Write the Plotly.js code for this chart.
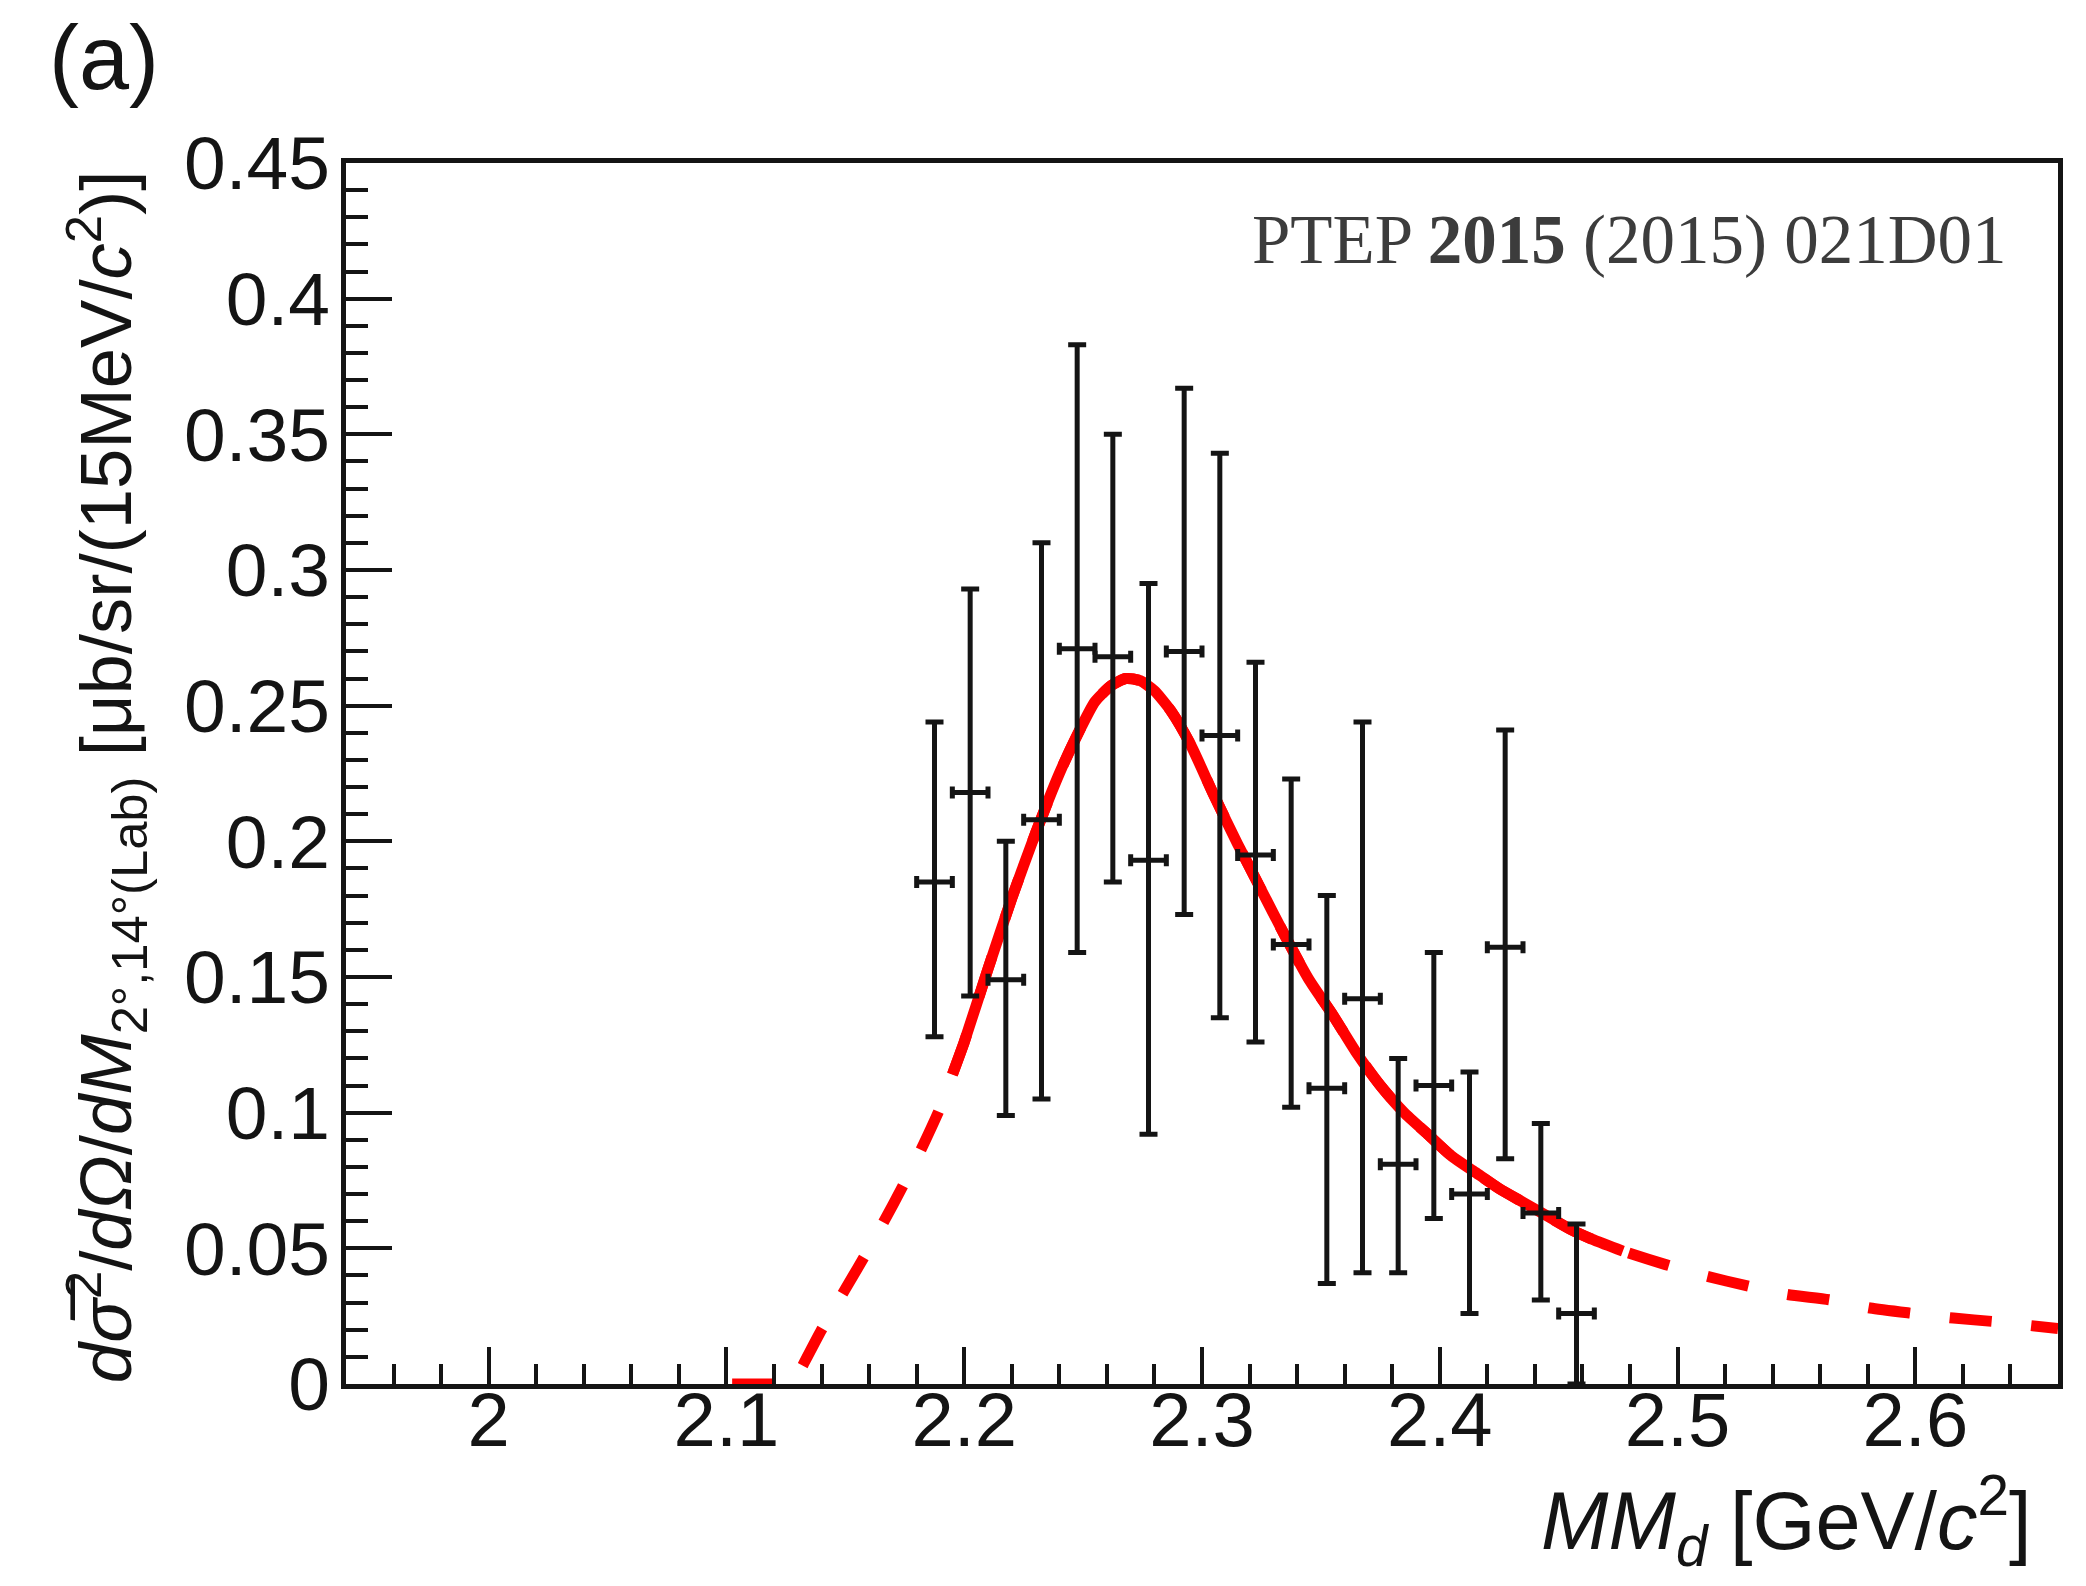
<!DOCTYPE html>
<html>
<head>
<meta charset="utf-8">
<script src="https://cdn.plot.ly/plotly-3.0.1.min.js"></script>
<style>
  html, body { margin: 0; padding: 0; background: #ffffff; }
  #chart { width: 2086px; height: 1586px; }
</style>
</head>
<body>
<div id="chart"></div>
<script>
// Measured spectrum: bin centres in missing mass (GeV/c^2), 15 MeV bins
const massCenters = [2.1875, 2.2025, 2.2175, 2.2325, 2.2475, 2.2625, 2.2775, 2.2925, 2.3075, 2.3225,
                     2.3375, 2.3525, 2.3675, 2.3825, 2.3975, 2.4125, 2.4275, 2.4425, 2.4575];
const binHalfWidth = 0.0075;
// Cross section per bin and the lower / upper ends of its error bar
const crossSection = [0.185, 0.218, 0.149, 0.208, 0.271, 0.268, 0.193, 0.270, 0.239, 0.195,
                      0.162, 0.109, 0.142, 0.081, 0.110, 0.070, 0.161, 0.063, 0.026];
const errorLow  = [0.128, 0.143, 0.099, 0.105, 0.159, 0.185, 0.092, 0.173, 0.135, 0.126,
                   0.102, 0.037, 0.041, 0.041, 0.061, 0.026, 0.083, 0.031, 0.000];
const errorHigh = [0.244, 0.293, 0.200, 0.310, 0.383, 0.350, 0.295, 0.367, 0.343, 0.266,
                   0.223, 0.180, 0.244, 0.120, 0.159, 0.115, 0.241, 0.096, 0.059];

// Fitted line shape, sampled in missing mass
const fitMass = [2.1024, 2.110, 2.120, 2.128, 2.131, 2.140, 2.150, 2.160, 2.170, 2.180,
                 2.190, 2.195, 2.200, 2.210, 2.220, 2.230, 2.240, 2.248, 2.255, 2.262,
                 2.268, 2.274, 2.280, 2.287, 2.295, 2.305, 2.315, 2.325, 2.335, 2.345,
                 2.355, 2.365, 2.375, 2.385, 2.395, 2.405, 2.415, 2.425, 2.435, 2.445,
                 2.455, 2.465, 2.477, 2.495, 2.511, 2.530, 2.546, 2.564, 2.581, 2.599,
                 2.616, 2.633, 2.660];
const fitValue = [0, 0, 0, 0, 0.005, 0.020, 0.035, 0.050, 0.066, 0.083,
                  0.102, 0.114, 0.126, 0.153, 0.179, 0.203, 0.225, 0.240, 0.2515, 0.2575,
                  0.2600, 0.2592, 0.2555, 0.2480, 0.2360, 0.2170, 0.1990, 0.1820, 0.1650, 0.1490,
                  0.136, 0.122, 0.110, 0.100, 0.092, 0.084, 0.078, 0.072, 0.067, 0.062,
                  0.057, 0.053, 0.049, 0.044, 0.040, 0.036, 0.033, 0.031, 0.028, 0.026,
                  0.0243, 0.023, 0.0204];
// Mass interval over which the fit was performed (drawn solid)
const fitRange = [2.195, 2.477];

// Axis ticks
const xTickVals = [2.0, 2.1, 2.2, 2.3, 2.4, 2.5, 2.6];
const xTickText = ['2', '2.1', '2.2', '2.3', '2.4', '2.5', '2.6'];
const yTickVals = [0, 0.05, 0.1, 0.15, 0.2, 0.25, 0.3, 0.35, 0.4, 0.45];
const yTickText = ['0', '0.05', '0.1', '0.15', '0.2', '0.25', '0.3', '0.35', '0.4', '0.45'];

const INK = '#141414';
const RED = '#ff0000';
const SANS = '"Liberation Sans", Arial, Helvetica, sans-serif';
const SERIF = '"Liberation Serif", "Times New Roman", serif';

const inFit = fitMass.map(m => m >= fitRange[0] - 1e-9 && m <= fitRange[1] + 1e-9);
const solidMass = fitMass.filter((m, i) => inFit[i]);
const solidValue = fitValue.filter((v, i) => inFit[i]);

const traces = [
  {
    type: 'scatter', mode: 'lines', x: fitMass, y: fitValue,
    line: { color: RED, width: 11, dash: '42px,40px', shape: 'spline', smoothing: 0.6 },
    hoverinfo: 'skip', showlegend: false
  },
  {
    type: 'scatter', mode: 'lines', x: solidMass, y: solidValue,
    line: { color: RED, width: 11, shape: 'spline', smoothing: 0.6 },
    hoverinfo: 'skip', showlegend: false
  },
  {
    type: 'scatter', mode: 'markers', x: massCenters, y: crossSection,
    marker: { size: 0.1, color: INK },
    error_y: {
      type: 'data', symmetric: false,
      array: crossSection.map((v, i) => errorHigh[i] - v),
      arrayminus: crossSection.map((v, i) => v - errorLow[i]),
      color: INK, thickness: 5, width: 9
    },
    error_x: { type: 'constant', value: binHalfWidth, color: INK, thickness: 5, width: 6 },
    showlegend: false
  }
];

const layout = {
  width: 2086, height: 1586,
  margin: { l: 346, r: 28, t: 163, b: 202, pad: 0 },
  paper_bgcolor: '#ffffff', plot_bgcolor: '#ffffff',
  showlegend: false,
  xaxis: {
    range: [1.94, 2.66], showgrid: false, zeroline: false,
    showline: true, mirror: true, linecolor: INK, linewidth: 5,
    ticks: 'inside', ticklen: 37, tickwidth: 4, tickcolor: INK,
    tickvals: xTickVals, ticktext: xTickText,
    tickfont: { family: SANS, size: 76, color: INK },
    ticklabelstandoff: -34,
    minor: { ticks: 'inside', tick0: 2.0, dtick: 0.02, ticklen: 20, tickwidth: 4, tickcolor: INK, showgrid: false }
  },
  yaxis: {
    range: [0, 0.45], showgrid: false, zeroline: false,
    showline: true, mirror: true, linecolor: INK, linewidth: 5,
    ticks: 'inside', ticklen: 46, tickwidth: 4, tickcolor: INK,
    tickvals: yTickVals, ticktext: yTickText,
    tickfont: { family: SANS, size: 75, color: INK },
    ticklabelstandoff: -4,
    minor: { ticks: 'inside', tick0: 0, dtick: 0.01, ticklen: 22, tickwidth: 4, tickcolor: INK, showgrid: false }
  },
  annotations: [
    {
      text: '(a)', xref: 'paper', yref: 'paper',
      x: (104 - 346) / 1712, y: (1384 - 58) / 1221,
      xanchor: 'center', yanchor: 'middle', showarrow: false,
      font: { family: SANS, size: 90, color: INK }
    },
    {
      text: 'PTEP <b>2015</b> (2015) 021D01', xref: 'paper', yref: 'paper',
      x: 0.9714, y: 0.937, xanchor: 'right', yanchor: 'middle', showarrow: false,
      font: { family: SERIF, size: 69, color: '#3c3c3c' }
    },
    {
      text: '<i>MM</i><sub><i>d</i></sub> [GeV/<i>c</i><sup>2</sup>]', xref: 'paper', yref: 'paper',
      x: (2034 - 346) / 1712, y: -0.112, xanchor: 'right', yanchor: 'middle', showarrow: false,
      font: { family: SANS, size: 81, color: INK }
    },
    {
      text: '<i>d</i><i>σ̅</i><sup>2</sup>/<i>d</i><i>Ω</i>/<i>dM</i><sub>2°,14°(Lab)</sub> [μb/sr/(15MeV/<i>c</i><sup>2</sup>)]',
      xref: 'paper', yref: 'paper', textangle: -90,
      x: (106 - 346) / 1712, y: 0.497, xanchor: 'center', yanchor: 'middle', showarrow: false,
      font: { family: SANS, size: 72.5, color: INK }
    }
  ]
};

Plotly.newPlot('chart', traces, layout, { staticPlot: true, displayModeBar: false });
</script>
</body>
</html>
